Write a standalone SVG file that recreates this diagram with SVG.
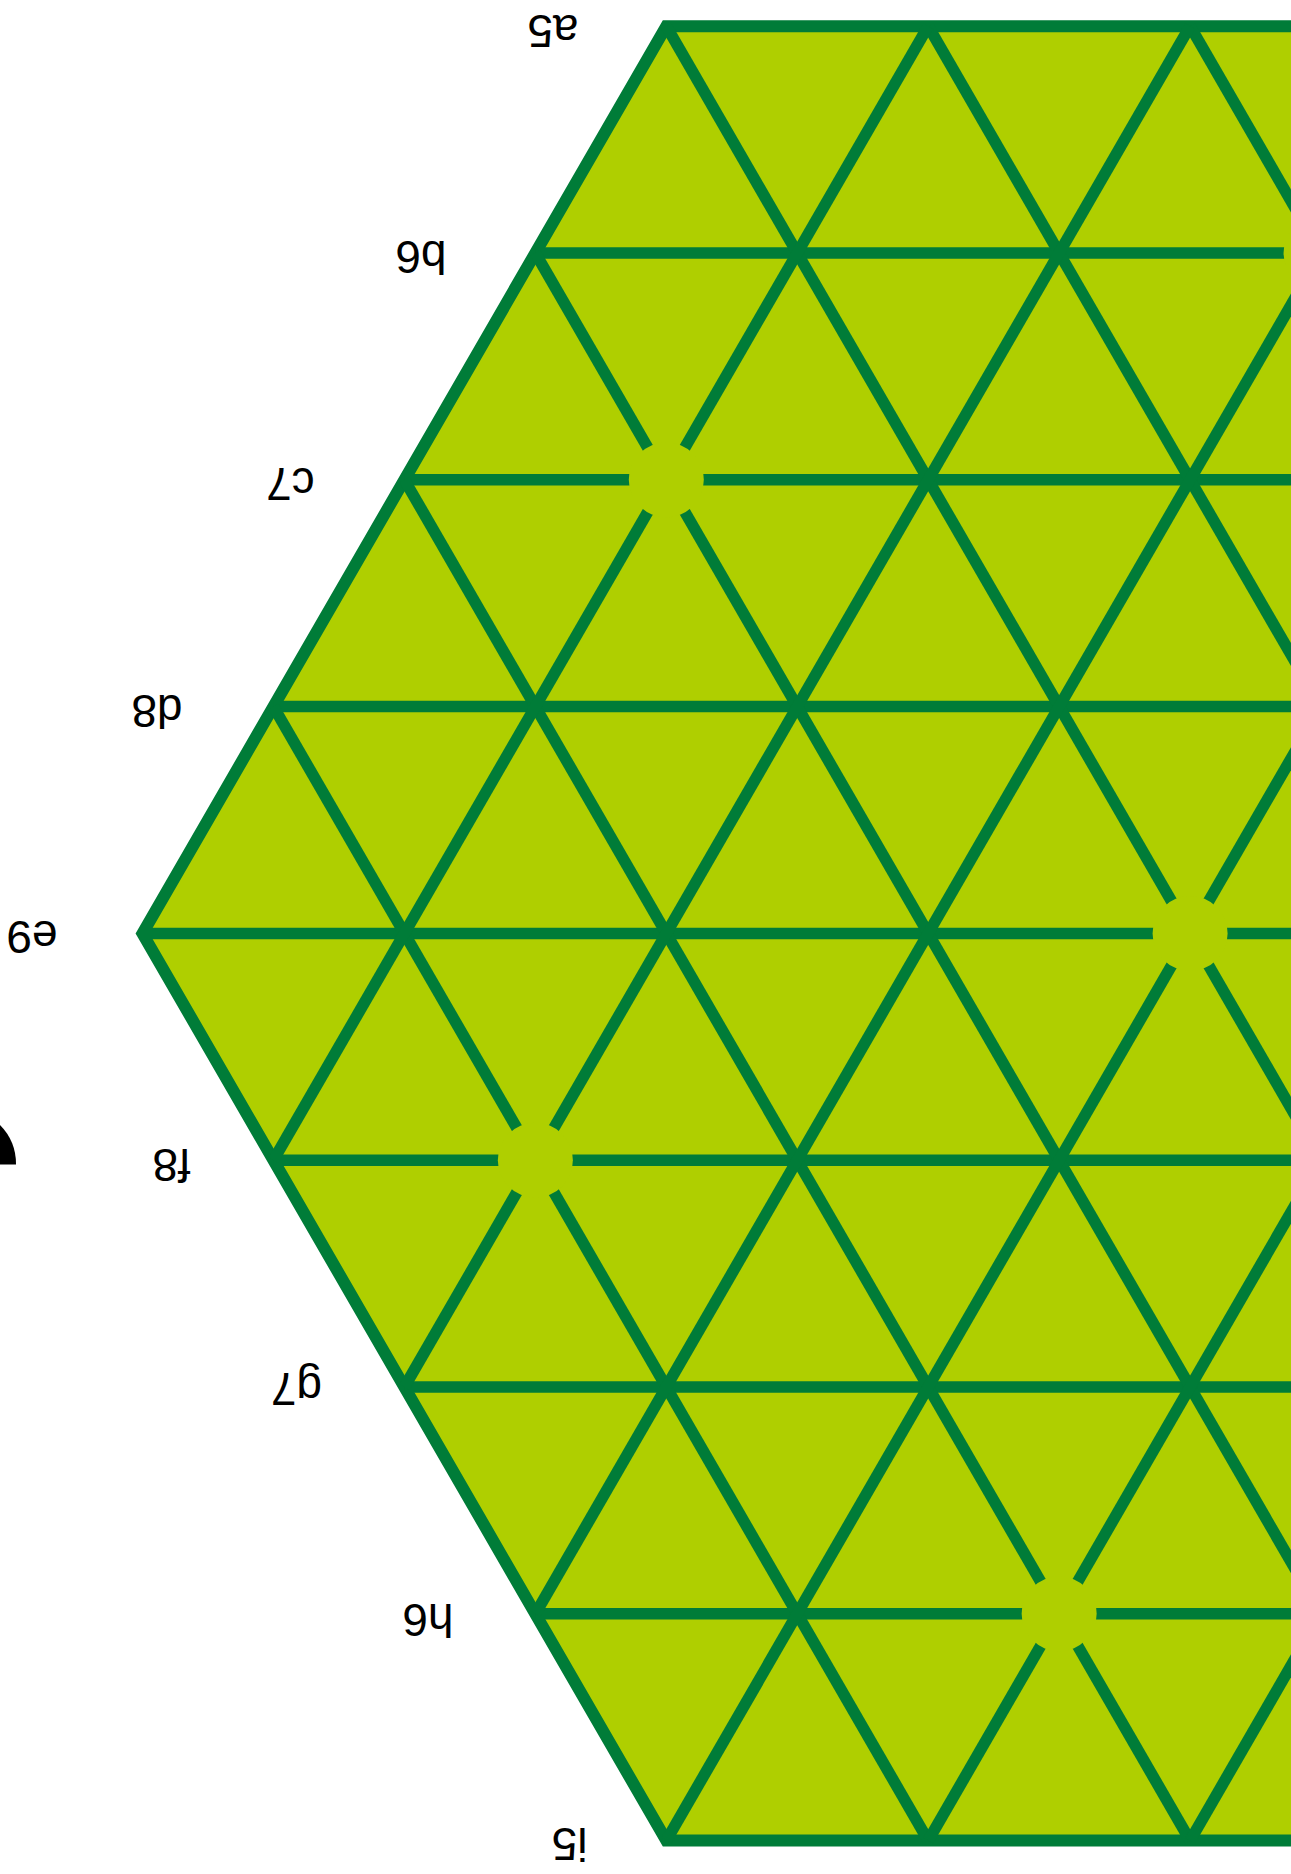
<svg xmlns="http://www.w3.org/2000/svg" width="1291" height="1874" viewBox="0 0 1291 1874">
<style>
.board{fill:#afcf00;stroke:#007c38;stroke-width:12;stroke-linejoin:miter}
.ln{stroke:#007c38;stroke-width:11.5;fill:none;stroke-linecap:butt}
.hole{fill:#afcf00;stroke:none}
.lbl{font-family:"Liberation Sans",Arial,sans-serif;font-size:46px;fill:#000;text-anchor:middle}
</style>
<rect x="0" y="0" width="1291" height="1874" fill="#ffffff"/>
<g id="board">
<polygon class="board" points="666.3,26.2 1713.9,26.2 2237.7,933.4 1713.9,1840.6 666.3,1840.6 142.5,933.4"/>
</g>
<g id="connectors">
<line class="ln" x1="535.35" y1="253" x2="1844.85" y2="253"/>
<line class="ln" x1="404.4" y1="479.8" x2="1975.8" y2="479.8"/>
<line class="ln" x1="273.45" y1="706.6" x2="2106.75" y2="706.6"/>
<line class="ln" x1="142.5" y1="933.4" x2="2237.7" y2="933.4"/>
<line class="ln" x1="273.45" y1="1160.2" x2="2106.75" y2="1160.2"/>
<line class="ln" x1="404.4" y1="1387" x2="1975.8" y2="1387"/>
<line class="ln" x1="535.35" y1="1613.8" x2="1844.85" y2="1613.8"/>
<line class="ln" x1="666.3" y1="26.2" x2="1713.9" y2="1840.6"/>
<line class="ln" x1="535.35" y1="253" x2="1452" y2="1840.6"/>
<line class="ln" x1="404.4" y1="479.8" x2="1190.1" y2="1840.6"/>
<line class="ln" x1="273.45" y1="706.6" x2="928.2" y2="1840.6"/>
<line class="ln" x1="928.2" y1="26.2" x2="1844.85" y2="1613.8"/>
<line class="ln" x1="1190.1" y1="26.2" x2="1975.8" y2="1387"/>
<line class="ln" x1="1452" y1="26.2" x2="2106.75" y2="1160.2"/>
<line class="ln" x1="273.45" y1="1160.2" x2="928.2" y2="26.2"/>
<line class="ln" x1="404.4" y1="1387" x2="1190.1" y2="26.2"/>
<line class="ln" x1="535.35" y1="1613.8" x2="1452" y2="26.2"/>
<line class="ln" x1="666.3" y1="1840.6" x2="1713.9" y2="26.2"/>
<line class="ln" x1="928.2" y1="1840.6" x2="1844.85" y2="253"/>
<line class="ln" x1="1190.1" y1="1840.6" x2="1975.8" y2="479.8"/>
<line class="ln" x1="1452" y1="1840.6" x2="2106.75" y2="706.6"/>
</g>
<g id="holes">
<circle class="hole" cx="666.3" cy="479.8" r="37.5"/>
<circle class="hole" cx="1190.1" cy="933.4" r="37.5"/>
<circle class="hole" cx="535.35" cy="1160.2" r="37.5"/>
<circle class="hole" cx="1059.15" cy="1613.8" r="37.5"/>
<circle class="hole" cx="1321.05" cy="253" r="37.5"/>
</g>
<g id="labels">
<text id="a5" class="lbl" x="553" y="15" transform="rotate(180 553 15)">a5</text>
<text id="b6" class="lbl" x="421" y="241" transform="rotate(180 421 241)">b6</text>
<text id="c7" class="lbl" x="290.5" y="468" transform="rotate(180 290.5 468)">c7</text>
<text id="d8" class="lbl" x="157" y="695" transform="rotate(180 157 695)">d8</text>
<text id="e9" class="lbl" x="32" y="921" transform="rotate(180 32 921)">e9</text>
<text id="f8" class="lbl" x="171.5" y="1149" transform="rotate(180 171.5 1149)">f8</text>
<text id="g7" class="lbl" x="296.5" y="1373" transform="rotate(180 296.5 1373)">g7</text>
<text id="h6" class="lbl" x="428" y="1604" transform="rotate(180 428 1604)">h6</text>
<text id="i5" class="lbl" x="569.5" y="1828" transform="rotate(180 569.5 1828)">i5</text>
</g>
<g id="marker">
<path d="M0,1164.5 L16,1164.5 A55.5,55.5 0 0 0 0,1125 Z" fill="#000000"/>
</g>
</svg>
